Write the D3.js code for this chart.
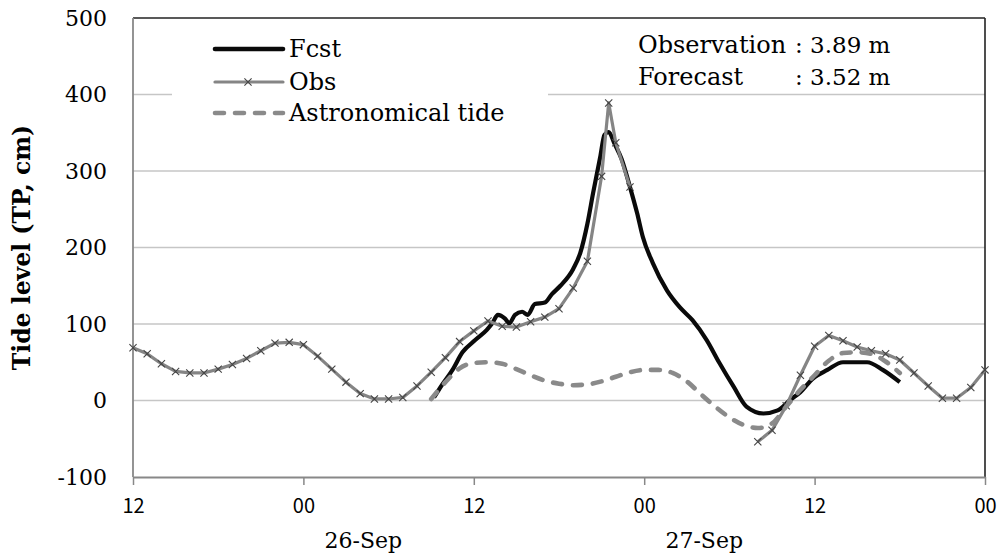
<!DOCTYPE html>
<html>
<head>
<meta charset="utf-8">
<script src="https://cdn.jsdelivr.net/npm/d3@7"></script>
<style>
  html, body { margin: 0; padding: 0; background: #fff; }
  svg { display: block; }
</style>
</head>
<body>
<div id="chart"></div>
<script>
// hours counted from 25-Sep 12:00
const tickHours = [0, 12, 24, 36, 48, 60];
const tickLabels = ['12', '00', '12', '00', '12', '00'];
const dateHours = [12, 36];
const dateLabels = ['26-Sep', '27-Sep'];
const yTicks = [-100, 0, 100, 200, 300, 400, 500];

// observed (hourly, extra point at the peak, gap while gauge was out)
const obsHours = [0, 1, 2, 3, 4, 5, 6, 7, 8, 9, 10, 11, 12, 13, 14, 15, 16, 17, 18, 19,
    20, 21, 22, 23, 24, 25, 26, 27, 28, 29, 30, 31, 32, 33, 33.5, 34, 35, 36,
    43, 44, 45, 46, 47, 48, 49, 50, 51, 52, 53, 54, 55, 56, 57, 58, 59, 60];
const obsLevels = [69, 61, 48, 38, 36, 36, 41, 47, 55, 65, 75, 76, 73, 58, 41, 24, 9, 2, 2, 4,
    19, 37, 56, 77, 91, 104, 97, 96, 103, 109, 120, 147, 182, 293, 389, 337, 279, null,
    null, -54, -39, -7, 33, 71, 85, 78, 70, 65, 61, 53, 36, 19, 3, 3, 17, 40];

// forecast
const fcstHours = [21.2, 21.6, 22.5, 23.2, 24.1, 24.9, 25.3, 25.7, 26.2, 26.5, 26.9, 27.4, 27.8,
    28.3, 29.0, 29.5, 30.1, 31.0, 31.5, 32.0, 32.4, 32.9, 33.2, 33.5, 33.9, 34.4, 35.0,
    35.5, 35.9, 36.6, 37.6, 38.5, 39.4, 40.4, 41.3, 42.3, 43.2, 44.4, 45.4, 46.3, 47.0,
    47.9, 48.9, 50.0, 51.7, 52.8, 54.0];
const fcstLevels = [4, 16, 40, 63, 79, 92, 101, 112, 107, 101, 112, 116, 112,
    126, 128, 139, 150, 172, 193, 231, 271, 318, 347, 351, 336, 316, 279,
    245, 214, 180, 144, 122, 105, 79, 49, 18, -8, -17, -13, 1, 11,
    29, 40, 50, 50, 40, 24];

// astronomical tide (hourly from hour 21)
const astroHours = d3.range(21, 55);
const astroLevels = [2, 24, 42, 49, 50, 48, 41, 33, 26, 22, 20, 21, 25, 31, 37, 40, 40, 36, 25, 8,
    -8, -22, -32, -36, -30, -8, 14, 33, 52, 62, 63, 61, 51, 36];

const peakNotes = [['Observation', ': 3.89 m'], ['Forecast', ': 3.52 m']];

const W = 1000, H = 557;
const plot = { left: 133, right: 985, top: 18, bot: 477 };
const serif = '"DejaVu Serif", serif';
const gothic = '"Noto Sans CJK JP", "DejaVu Sans", sans-serif';

const svg = d3.select('#chart').append('svg')
    .attr('width', W)
    .attr('height', H);

const x = d3.scaleLinear().domain([0, 60]).range([plot.left, plot.right]);
const y = d3.scaleLinear().domain([-100, 500]).range([plot.bot, plot.top]);

// gridlines
svg.append('g')
    .selectAll('line')
    .data(yTicks.filter(d => d > -100 && d < 500))
    .join('line')
    .attr('x1', plot.left).attr('x2', plot.right)
    .attr('y1', d => y(d)).attr('y2', d => y(d))
    .attr('stroke', '#c6c6c6')
    .attr('stroke-width', 1.3);

// frame: dark top/right, grey axes left/bottom
svg.append('line')
    .attr('x1', plot.left).attr('x2', plot.right)
    .attr('y1', plot.top).attr('y2', plot.top)
    .attr('stroke', '#222').attr('stroke-width', 1.6);
svg.append('line')
    .attr('x1', plot.right).attr('x2', plot.right)
    .attr('y1', plot.top).attr('y2', plot.bot)
    .attr('stroke', '#222').attr('stroke-width', 1.6);
svg.append('line')
    .attr('x1', plot.left).attr('x2', plot.left)
    .attr('y1', plot.top).attr('y2', plot.bot)
    .attr('stroke', '#888').attr('stroke-width', 1.8);

const xAxis = svg.append('g')
    .attr('transform', `translate(0,${plot.bot})`)
    .call(d3.axisBottom(x).tickValues(tickHours).tickSize(8).tickSizeOuter(0)
        .tickFormat((d, i) => tickLabels[i]));
xAxis.select('.domain').attr('stroke', '#888').attr('stroke-width', 1.8);
xAxis.selectAll('.tick line').attr('stroke', '#888').attr('stroke-width', 1.5);
xAxis.selectAll('.tick text')
    .attr('y', 22)
    .attr('dy', '0.71em')
    .attr('fill', '#000')
    .style('font-family', gothic)
    .style('font-size', '20px');

svg.append('g')
    .selectAll('text')
    .data(dateHours)
    .join('text')
    .attr('x', d => x(d) + 60)
    .attr('y', 548)
    .attr('text-anchor', 'middle')
    .style('font-family', serif)
    .style('font-size', '22px')
    .text((d, i) => dateLabels[i]);

svg.append('g')
    .selectAll('text')
    .data(yTicks)
    .join('text')
    .attr('x', 107)
    .attr('y', d => y(d))
    .attr('dy', '0.36em')
    .attr('text-anchor', 'end')
    .style('font-family', serif)
    .style('font-size', '22px')
    .text(d => d);

svg.append('text')
    .attr('transform', `translate(30,${(plot.top + plot.bot) / 2}) rotate(-90)`)
    .attr('text-anchor', 'middle')
    .style('font-family', serif)
    .style('font-size', '23.5px')
    .style('font-weight', 'bold')
    .text('Tide level (TP, cm)');

// series
const fcstLine = d3.line()
    .x((d, i) => x(fcstHours[i]))
    .y(d => y(d))
    .curve(d3.curveMonotoneX);
svg.append('path')
    .datum(fcstLevels)
    .attr('d', fcstLine)
    .attr('fill', 'none')
    .attr('stroke', '#0a0a0a')
    .attr('stroke-width', 4.2)
    .attr('stroke-linejoin', 'round');

const obsLine = d3.line()
    .defined(d => d != null)
    .x((d, i) => x(obsHours[i]))
    .y(d => y(d));
svg.append('path')
    .datum(obsLevels)
    .attr('d', obsLine)
    .attr('fill', 'none')
    .attr('stroke', '#858585')
    .attr('stroke-width', 3.2)
    .attr('stroke-linejoin', 'round');

function cross(g, cx, cy) {
    const s = 3.6;
    g.append('path')
        .attr('d', `M${cx - s},${cy - s}L${cx + s},${cy + s}M${cx - s},${cy + s}L${cx + s},${cy - s}`)
        .attr('stroke', '#444')
        .attr('stroke-width', 1.1)
        .attr('fill', 'none');
}
const marks = svg.append('g');
obsLevels.forEach((v, i) => {
    if (v != null) cross(marks, x(obsHours[i]), y(v));
});

const astroLine = d3.line()
    .x((d, i) => x(astroHours[i]))
    .y(d => y(d))
    .curve(d3.curveMonotoneX);
svg.append('path')
    .datum(astroLevels)
    .attr('d', astroLine)
    .attr('fill', 'none')
    .attr('stroke', '#8a8a8a')
    .attr('stroke-width', 4.6)
    .attr('stroke-linecap', 'round')
    .attr('stroke-dasharray', '9 11');

// legend
const legend = svg.append('g');
legend.append('rect')
    .attr('x', 172).attr('y', 26)
    .attr('width', 376).attr('height', 110)
    .attr('fill', '#fff');
const legendRows = [
    { label: 'Fcst', y: 49, stroke: '#0a0a0a', width: 4.6, dash: null, mark: false },
    { label: 'Obs', y: 82, stroke: '#858585', width: 3.2, dash: null, mark: true },
    { label: 'Astronomical tide', y: 113, stroke: '#8a8a8a', width: 4.6, dash: '9 11', mark: false }
];
legendRows.forEach(r => {
    const ln = legend.append('line')
        .attr('x1', 215).attr('x2', 283)
        .attr('y1', r.y).attr('y2', r.y)
        .attr('stroke', r.stroke)
        .attr('stroke-width', r.width)
        .attr('stroke-linecap', 'round');
    if (r.dash) ln.attr('stroke-dasharray', r.dash);
    if (r.mark) cross(legend, 248, r.y);
    legend.append('text')
        .attr('x', 289).attr('y', r.y + 8)
        .style('font-family', serif)
        .style('font-size', '24px')
        .text(r.label);
});

// peak note
peakNotes.forEach((n, i) => {
    svg.append('text')
        .attr('x', 638).attr('y', 53 + i * 32)
        .style('font-family', serif)
        .style('font-size', '24px')
        .text(n[0]);
    svg.append('text')
        .attr('x', 795).attr('y', 53 + i * 32)
        .style('font-family', serif)
        .style('font-size', '23px')
        .text(n[1]);
});
</script>
</body>
</html>
